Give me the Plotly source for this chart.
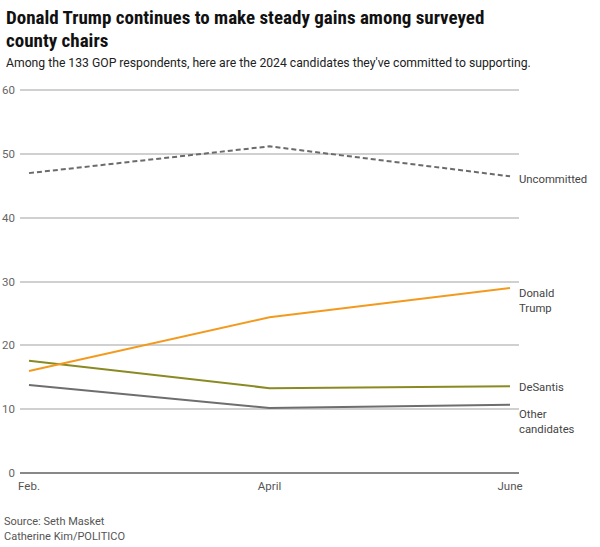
import plotly.graph_objects as go

months = ["Feb.", "April", "June"]
uncommitted = [47.0, 51.2, 46.5]
trump = [16.0, 24.4, 29.0]
desantis = [17.6, 13.3, 13.6]
other = [13.8, 10.2, 10.7]
yticks = [0, 10, 20, 30, 40, 50, 60]

W, H = 600, 547
L, R, T, B = 20, 81, 87, 74
ph = H - T - B
pw = W - L - R

def py(p):
    return (H - B - p) / ph

def px(p):
    return (p - L) / pw

BODY = "Roboto, Liberation Sans, sans-serif"
TITLE = "Liberation Sans Narrow, Roboto Condensed, sans-serif"

xi = list(range(len(months)))
fig = go.Figure()
fig.add_trace(go.Scatter(x=xi, y=uncommitted, mode="lines",
                         line=dict(color="#6b6b6b", width=2, dash="5px,3px"), name="Uncommitted"))
fig.add_trace(go.Scatter(x=xi, y=other, mode="lines",
                         line=dict(color="#6e6e6e", width=2), name="Other candidates"))
fig.add_trace(go.Scatter(x=xi, y=desantis, mode="lines",
                         line=dict(color="#8a8a22", width=2), name="DeSantis"))
fig.add_trace(go.Scatter(x=xi, y=trump, mode="lines",
                         line=dict(color="#f39a1e", width=2), name="Donald Trump"))

anns = []
for txt, cy in [("Donald Trump continues to make steady gains among surveyed", 17),
                ("county chairs", 40)]:
    anns.append(dict(text="<b>" + txt + "</b>", xref="paper", yref="paper", x=px(4), y=py(cy),
                     xanchor="left", yanchor="middle", showarrow=False,
                     font=dict(family=TITLE, size=19, color="#111")))
anns.append(dict(text="Among the 133 GOP respondents, here are the 2024 candidates they've committed to supporting.",
                 xref="paper", yref="paper", x=px(4), y=py(63), xanchor="left", yanchor="middle",
                 showarrow=False, font=dict(family=BODY, size=12.2, color="#222")))
for txt, cy in [("Source: Seth Masket", 521), ("Catherine Kim/POLITICO", 536)]:
    anns.append(dict(text=txt, xref="paper", yref="paper", x=px(2), y=py(cy), xanchor="left",
                     yanchor="middle", showarrow=False, font=dict(family=BODY, size=11, color="#555")))

lab = [("Uncommitted", uncommitted[-1] - 0.5), ("Donald<br>Trump", trump[-1] - 2.0),
       ("DeSantis", desantis[-1] - 0.2), ("Other<br>candidates", other[-1] - 2.7)]
for t, yv in lab:
    anns.append(dict(text=t, x=2, y=yv, xref="x", yref="y", xanchor="left", yanchor="middle",
                     xshift=7, align="left", showarrow=False,
                     font=dict(family=BODY, size=11.3, color="#444")))

fig.update_layout(
    width=W, height=H, margin=dict(l=L, r=R, t=T, b=B, autoexpand=False),
    paper_bgcolor="white", plot_bgcolor="white", showlegend=False,
    annotations=anns,
    xaxis=dict(range=[-0.0374, 2.0374], tickvals=xi, ticktext=months, showgrid=False,
               zeroline=False, showline=False, ticks="", automargin=False, ticklabelstandoff=4,
               tickfont=dict(family=BODY, size=11.5, color="#555")),
    yaxis=dict(range=[0, 60.5], tickvals=yticks, showgrid=True, gridcolor="#d0d0d0", gridwidth=1.5,
               zeroline=True, zerolinecolor="#888", zerolinewidth=1.5, ticks="", automargin=False,
               tickfont=dict(family=BODY, size=11.5, color="#666"), ticklabelstandoff=4),
)
fig.write_html("out.html")
